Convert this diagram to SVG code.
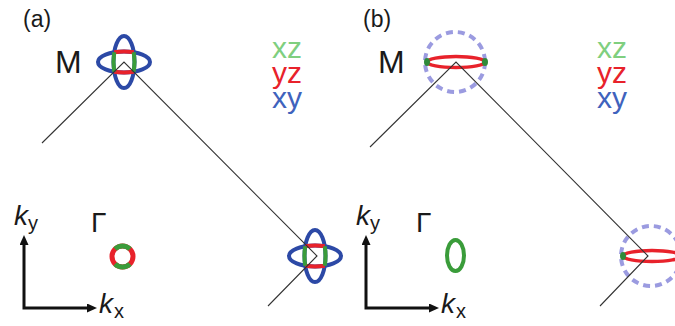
<svg xmlns="http://www.w3.org/2000/svg" xmlns:xlink="http://www.w3.org/1999/xlink" width="675" height="326" viewBox="0 0 675 326">
<style>
  .lbl{font-family:"Liberation Sans",Arial,sans-serif;fill:#1a1a1a}
  .k{font-family:"Liberation Sans",Arial,sans-serif;font-style:italic;fill:#1a1a1a}
  .leg{font-family:"Liberation Sans",Arial,sans-serif;font-size:30px}
  .conn{fill:none;stroke:#333;stroke-width:1.1}
  .axis{fill:none;stroke:#111;stroke-width:3;stroke-linejoin:miter}
  .blue{fill:none;stroke:#2c49a6;stroke-width:4}
  .red{fill:none;stroke:#e8222b;stroke-width:4}
  .green{fill:none;stroke:#3a9c3a;stroke-width:4}
  .dash{fill:none;stroke:#9b9be0;stroke-width:4;stroke-dasharray:7 5}
</style>
<defs>
  <marker id="arr" markerUnits="userSpaceOnUse" markerWidth="12" markerHeight="10" refX="2" refY="4.5" orient="auto-start-reverse">
    <path d="M0,0 L10,4.5 L0,9 z" fill="#111"/>
  </marker>
  <g id="cross">
    <ellipse cx="0" cy="0" rx="26" ry="10.5" class="blue"/>
    <ellipse cx="0" cy="0" rx="10.5" ry="26" class="blue"/>
    <path d="M-9.74,-9.74 A26 10.5 0 0 1 9.74,-9.74 M-9.74,9.74 A26 10.5 0 0 0 9.74,9.74" class="red"/>
    <path d="M-9.74,-9.74 A10.5 26 0 0 0 -9.74,9.74 M9.74,-9.74 A10.5 26 0 0 1 9.74,9.74" class="green"/>
  </g>
  <g id="flat">
    <circle cx="0" cy="0" r="30" class="dash"/>
    <ellipse cx="1" cy="0" rx="29" ry="5.5" fill="none" stroke="#e8222b" stroke-width="3.5"/>
    <ellipse cx="-28" cy="0" rx="3" ry="4" fill="#2f8a3a"/>
    <ellipse cx="30" cy="0" rx="3" ry="4" fill="#2f8a3a"/>
  </g>
</defs>

<!-- panel a -->
<text class="lbl" x="23" y="27" font-size="23">(a)</text>
<g id="a-M">
  <use xlink:href="#cross" href="#cross" x="124" y="62"/>
  <text class="lbl" x="55" y="73" font-size="32">M</text>
</g>
<g id="a-M2">
  <use xlink:href="#cross" href="#cross" x="315" y="256"/>
</g>
<g id="a-Gamma">
  <text class="lbl" x="91" y="232" font-size="28">Γ</text>
  <circle cx="122.5" cy="256.5" r="10.5" fill="none" stroke="#e8222b" stroke-width="5"/>
  <path d="M115.08,249.08 A10.5 10.5 0 0 1 129.92,249.08 M115.08,263.92 A10.5 10.5 0 0 0 129.92,263.92" fill="none" stroke="#3a9c3a" stroke-width="5"/>
</g>
<g id="a-legend">
  <text class="leg"><tspan x="272" y="58" fill="#7fcf7f">xz</tspan><tspan x="272" y="83" fill="#e8222b">yz</tspan><tspan x="272" y="108" fill="#3f63bd">xy</tspan></text>
</g>
<g id="a-axes">
  <polyline class="axis" points="24,243 24,308 89,308" marker-start="url(#arr)" marker-end="url(#arr)"/>
  <text class="k" x="14" y="225" font-size="28">k</text>
  <text class="lbl" x="28" y="230" font-size="20">y</text>
  <text class="k" x="99" y="313" font-size="28">k</text>
  <text class="lbl" x="114" y="318" font-size="20">x</text>
</g>

<!-- panel b -->
<text class="lbl" x="363" y="27" font-size="23">(b)</text>
<g id="b-M">
  <use xlink:href="#flat" href="#flat" x="455" y="62"/>
  <text class="lbl" x="378" y="73" font-size="32">M</text>
</g>
<g id="b-M2">
  <use xlink:href="#flat" href="#flat" x="651" y="256"/>
</g>
<g id="b-Gamma">
  <text class="lbl" x="416" y="232" font-size="28">Γ</text>
  <ellipse cx="455.5" cy="255.5" rx="8.5" ry="15.5" fill="none" stroke="#3a9c3a" stroke-width="4"/>
</g>
<g id="b-legend">
  <text class="leg"><tspan x="597" y="58" fill="#7fcf7f">xz</tspan><tspan x="597" y="83" fill="#e8222b">yz</tspan><tspan x="597" y="108" fill="#3f63bd">xy</tspan></text>
</g>
<g id="b-axes">
  <polyline class="axis" points="366,243 366,308 431,308" marker-start="url(#arr)" marker-end="url(#arr)"/>
  <text class="k" x="356" y="225" font-size="28">k</text>
  <text class="lbl" x="370" y="230" font-size="20">y</text>
  <text class="k" x="441" y="313" font-size="28">k</text>
  <text class="lbl" x="456" y="318" font-size="20">x</text>
</g>

<g id="connectors">
  <polyline class="conn" points="42,143 124,62 317,256 268,306"/>
  <polyline class="conn" points="370,147 456,62 648,256 600,306"/>
</g>
</svg>
